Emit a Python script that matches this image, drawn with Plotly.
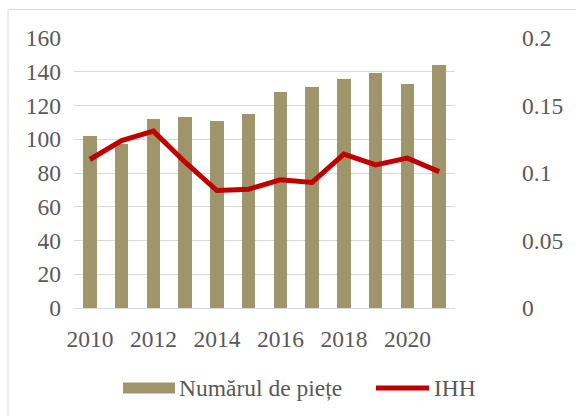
import plotly.graph_objects as go

years = [2010, 2011, 2012, 2013, 2014, 2015, 2016, 2017, 2018, 2019, 2020, 2021]
numar_piete = [102, 97, 112, 113, 111, 115, 128, 131, 136, 139, 133, 144]
ihh = [0.110, 0.124, 0.131, 0.108, 0.087, 0.088, 0.095, 0.093, 0.114, 0.106, 0.111, 0.101]

left_ticks = [0, 20, 40, 60, 80, 100, 120, 140, 160]
right_ticks = [0, 0.05, 0.1, 0.15, 0.2]
right_labels = ["0", "0.05", "0.1", "0.15", "0.2"]
x_ticks = [2010, 2012, 2014, 2016, 2018, 2020]

BAR_COLOR = "#9E956B"
LINE_COLOR = "#C00000"
TEXT_COLOR = "#595959"
GRID_COLOR = "#D9D9D9"
FONT = "Liberation Serif"
FS = 23.5

W, H = 576, 416
ML, MR, MT, MB = 74, 121, 38, 108
PW, PH = W - ML - MR, H - MT - MB


def px(x):
    return (x - ML) / PW


def py(y):
    return (H - MB - y) / PH


fig = go.Figure()
fig.add_trace(go.Bar(x=years, y=numar_piete, name="Numărul de piețe",
                     marker=dict(color=BAR_COLOR, line=dict(width=0)),
                     width=0.42, yaxis="y"))
fig.add_trace(go.Scatter(x=years, y=ihh, name="IHH", mode="lines",
                         line=dict(color=LINE_COLOR, width=5),
                         yaxis="y2"))

shapes = [
    # chart area border
    dict(type="rect", xref="paper", yref="paper",
         x0=px(8), x1=px(590), y0=py(430), y1=py(9.5),
         line=dict(color=GRID_COLOR, width=1), fillcolor="rgba(0,0,0,0)", layer="below"),
    # legend swatches
    dict(type="rect", xref="paper", yref="paper",
         x0=px(123), x1=px(175), y0=py(393.5), y1=py(382.5),
         line=dict(width=0), fillcolor=BAR_COLOR),
    dict(type="line", xref="paper", yref="paper",
         x0=px(376), x1=px(429), y0=py(388), y1=py(388),
         line=dict(color=LINE_COLOR, width=5)),
]
legend_font = dict(family=FONT, size=FS, color=TEXT_COLOR)
annotations = [
    dict(text="Numărul de piețe", xref="paper", yref="paper", x=px(177), y=py(388),
         xanchor="left", yanchor="middle", showarrow=False, font=legend_font),
    dict(text="IHH", xref="paper", yref="paper", x=px(432), y=py(388),
         xanchor="left", yanchor="middle", showarrow=False, font=legend_font),
]

tick_font = dict(family=FONT, size=FS, color=TEXT_COLOR)

fig.update_layout(
    width=W, height=H,
    margin=dict(l=ML, r=MR, t=MT, b=MB),
    paper_bgcolor="white", plot_bgcolor="white",
    showlegend=False,
    xaxis=dict(range=[2009.5, 2021.5], tickvals=x_ticks, showgrid=False,
               zeroline=False, showline=False, ticks="", ticklabelstandoff=14,
               tickfont=tick_font),
    yaxis=dict(range=[0, 160], tickvals=left_ticks, gridcolor=GRID_COLOR, gridwidth=1,
               zeroline=True, zerolinecolor=GRID_COLOR, zerolinewidth=1,
               showline=False, ticks="", ticklabelstandoff=12, tickfont=tick_font),
    yaxis2=dict(range=[0, 0.2], tickvals=right_ticks, ticktext=right_labels,
                overlaying="y", side="right", showgrid=False, zeroline=False,
                showline=False, ticks="", ticklabelstandoff=66, tickfont=tick_font),
    shapes=shapes, annotations=annotations,
    bargap=0,
)

fig.write_html("out.html")
